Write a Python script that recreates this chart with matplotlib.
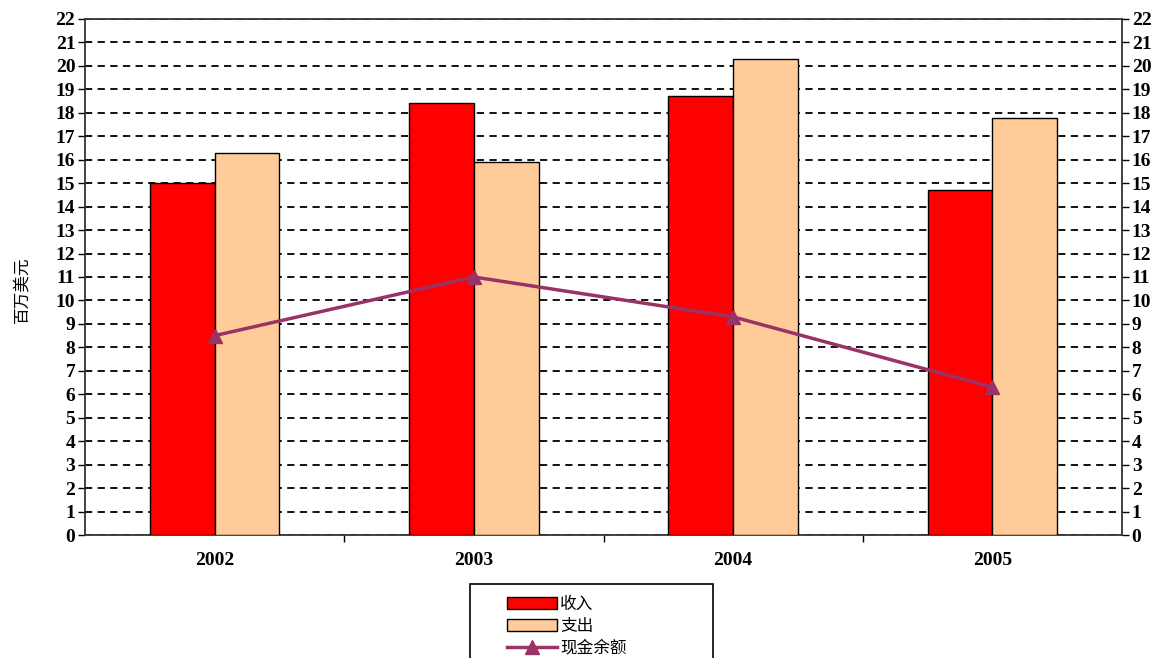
import numpy as np
import matplotlib
matplotlib.use("Agg")
import matplotlib.pyplot as plt
from matplotlib.patches import Rectangle

# Données
years = ["2002", "2003", "2004", "2005"]
income = [15.0, 18.4, 18.7, 14.7]
expense = [16.3, 15.9, 20.3, 17.8]
balance = [8.5, 11.0, 9.3, 6.3]
y_ticks = list(range(0, 23))

cjk = ["Noto Sans CJK SC", "DejaVu Sans"]
num_font = "Liberation Serif"

fig = plt.figure(figsize=(11.51, 6.58), dpi=100)
ax = fig.add_axes([85 / 1151, 1 - 535 / 658, (1122 - 85) / 1151, (535 - 19) / 658])

x = np.arange(len(years))
w = 0.25
b1 = ax.bar(x - w / 2, income, width=w, color="#FF0000", edgecolor="black", linewidth=1, zorder=3)
b2 = ax.bar(x + w / 2, expense, width=w, color="#FFCC99", edgecolor="black", linewidth=1, zorder=3)
ln, = ax.plot(x, balance, color="#993366", linewidth=2.5, marker="^", markersize=10,
              markeredgecolor="#993366", zorder=4)

ax.set_xlim(-0.5, 3.5)
ax.set_ylim(0, 22)
ax.set_yticks(y_ticks)
ax.tick_params(axis="y", which="both", left=True, right=True, labelleft=True, labelright=True,
               direction="out", length=5, width=1, pad=2)
for t in ax.yaxis.get_major_ticks():
    for lab in (t.label1, t.label2):
        lab.set_fontfamily(num_font)
        lab.set_fontweight("bold")
        lab.set_fontsize(14)

ax.set_xticks(x)
ax.set_xticklabels(years, fontfamily=num_font, fontweight="bold", fontsize=14)
ax.tick_params(axis="x", which="major", length=0, pad=12)
ax.set_xticks([0.5, 1.5, 2.5], minor=True)
ax.tick_params(axis="x", which="minor", length=5, width=1, direction="out")

ax.yaxis.grid(True, linestyle=(0, (4, 3)), color="black", linewidth=1.3, zorder=0)
ax.set_axisbelow(True)
for s in ax.spines.values():
    s.set_color("#333333")
    s.set_linewidth(1.3)

fig.text(22 / 1151, 1 - 290 / 658, "百万美元", rotation=90, ha="center", va="center",
         fontsize=12, family=cjk)

# Légende
leg = fig.legend([b1, b2, ln], ["收入", "支出", "现金余额"],
                 loc="upper left", bbox_to_anchor=(495 / 1151, 1 - 584 / 658),
                 frameon=False, prop={"family": cjk, "size": 12},
                 handlelength=3.0, handleheight=0.8, handletextpad=0.2,
                 labelspacing=0.3, borderpad=0.2)
fig.patches.append(Rectangle((470 / 1151, -0.05), (713 - 470) / 1151, 0.05 + 1 - 584 / 658,
                             transform=fig.transFigure, fill=False, edgecolor="black",
                             linewidth=1.2))

fig.savefig("out.png", dpi=100)
